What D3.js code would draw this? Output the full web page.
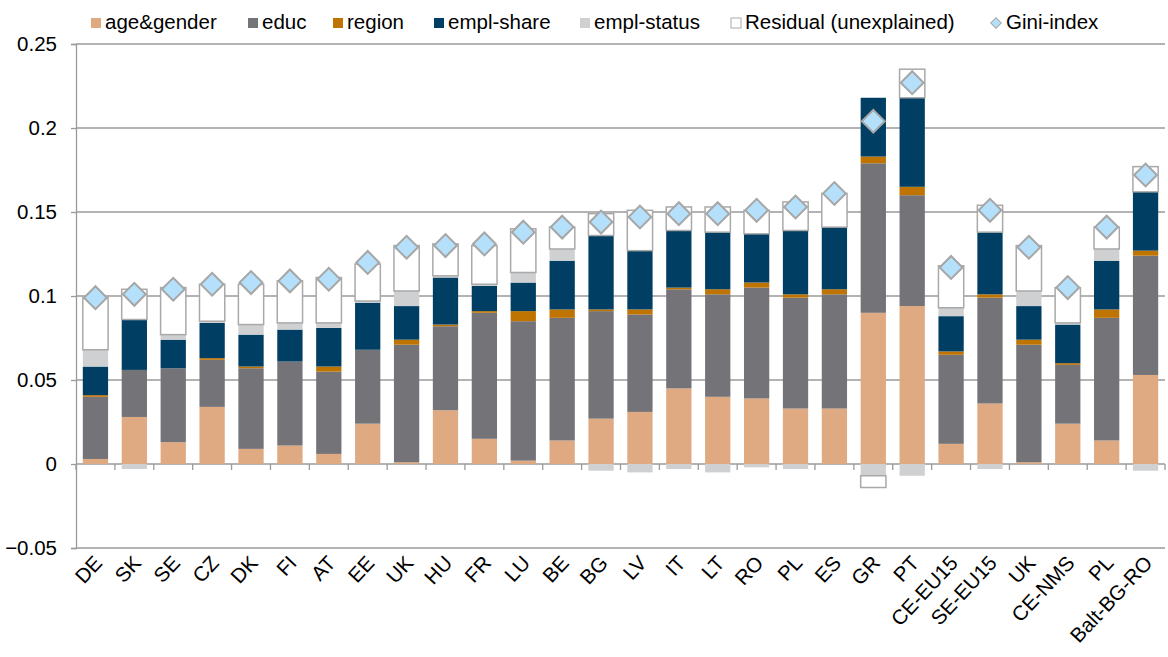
<!DOCTYPE html>
<html>
<head>
<meta charset="utf-8">
<script src="https://cdn.jsdelivr.net/npm/d3@7"></script>
<style>
  body { margin: 0; background: #fff; }
  svg { display: block; font-family: "Liberation Sans", Arial, sans-serif; }
</style>
</head>
<body>
<svg id="chart" width="1168" height="657"></svg>
<script>
// categories along the x axis
const countries = ["DE","SK","SE","CZ","DK","FI","AT","EE","UK","HU","FR","LU","BE","BG","LV","IT","LT","RO","PL","ES","GR","PT","CE-EU15","SE-EU15","UK","CE-NMS","PL","Balt-BG-RO"];

// decomposition components
const ageGender  = [0.003,0.028,0.013,0.034,0.009,0.011,0.006,0.024,0.001,0.032,0.015,0.002,0.014,0.027,0.031,0.045,0.040,0.039,0.033,0.033,0.090,0.094,0.012,0.036,0.001,0.024,0.014,0.053];
const educ       = [0.037,0.028,0.044,0.028,0.048,0.050,0.049,0.044,0.070,0.050,0.075,0.083,0.073,0.064,0.058,0.059,0.061,0.066,0.066,0.068,0.089,0.066,0.053,0.063,0.070,0.035,0.073,0.071];
const region     = [0.001,0,0,0.001,0.001,0,0.003,0,0.003,0.001,0.001,0.006,0.005,0.001,0.003,0.001,0.003,0.003,0.002,0.003,0.004,0.005,0.002,0.002,0.003,0.001,0.005,0.003];
const emplShare  = [0.017,0.030,0.017,0.021,0.019,0.019,0.023,0.028,0.020,0.028,0.015,0.017,0.029,0.044,0.035,0.034,0.034,0.029,0.038,0.037,0.035,0.053,0.021,0.037,0.020,0.023,0.029,0.035];
const emplStatus = [0.010,-0.003,0.003,0.001,0.006,0.004,0.003,0.001,0.009,0.001,0.001,0.006,0.007,-0.004,-0.005,-0.003,-0.005,-0.002,-0.003,0,-0.007,-0.007,0.005,-0.003,0.009,0.001,0.007,-0.004];
const residual   = [0.031,0.018,0.028,0.022,0.024,0.025,0.027,0.022,0.027,0.019,0.023,0.026,0.013,0.013,0.024,0.014,0.015,0.014,0.017,0.020,-0.007,0.017,0.025,0.016,0.027,0.021,0.013,0.015];
const gini       = [0.099,0.101,0.104,0.107,0.108,0.109,0.110,0.120,0.129,0.130,0.131,0.138,0.141,0.144,0.147,0.149,0.149,0.151,0.153,0.161,0.204,0.227,0.117,0.151,0.129,0.105,0.141,0.172];

const yTicks = [-0.05, 0, 0.05, 0.1, 0.15, 0.2, 0.25];

const seriesNames = ["age&gender","educ","region","empl-share","empl-status","Residual (unexplained)"];
const seriesColors = ["#dfaa82","#747378","#bf7300","#003f63","#cfd0d2","#ffffff"];
const seriesValues = [ageGender, educ, region, emplShare, emplStatus, residual];

const table = countries.map((c, i) => {
  const row = { idx: i, name: c };
  seriesNames.forEach((s, k) => row[s] = seriesValues[k][i]);
  return row;
});

const svg = d3.select("#chart");
const plotLeft = 76, plotRight = 1165, plotTop = 44, plotBottom = 548;
const fontSize = 20.5;

const x = d3.scaleBand()
  .domain(d3.range(countries.length))
  .range([plotLeft, plotRight])
  .paddingInner(0.35)
  .paddingOuter(0.175);

const y = d3.scaleLinear().domain([-0.05, 0.25]).range([plotBottom, plotTop]);

// gridlines
svg.append("g").selectAll("line")
  .data(yTicks)
  .join("line")
  .attr("x1", plotLeft).attr("x2", plotRight)
  .attr("y1", d => y(d)).attr("y2", d => y(d))
  .attr("stroke", "#9a9a9a").attr("stroke-width", 1.3);

// y axis
const yAxis = svg.append("g")
  .attr("transform", `translate(${plotLeft},0)`)
  .call(d3.axisLeft(y).tickValues(yTicks).tickSize(5).tickPadding(14)
    .tickFormat(d => d3.format("")(+d.toFixed(2))));
yAxis.select(".domain").attr("stroke", "#9a9a9a").attr("stroke-width", 1.3);
yAxis.selectAll(".tick line").attr("stroke", "#9a9a9a").attr("stroke-width", 1.3);
yAxis.selectAll("text").attr("font-size", fontSize).attr("fill", "#000")
  .attr("font-family", "Liberation Sans, Arial, sans-serif");

// x ticks at the zero line
const step = x.step();
svg.append("g").selectAll("line")
  .data(d3.range(countries.length + 1))
  .join("line")
  .attr("x1", i => plotLeft + i * step).attr("x2", i => plotLeft + i * step)
  .attr("y1", y(0)).attr("y2", y(0) + 6)
  .attr("stroke", "#9a9a9a").attr("stroke-width", 1.3);

// stacked bars
const stack = d3.stack().keys(seriesNames).offset(d3.stackOffsetDiverging);
const layers = stack(table);

svg.append("g").selectAll("g")
  .data(layers)
  .join("g")
  .attr("fill", (d, k) => seriesColors[k])
  .each(function(layer, k) {
    d3.select(this).selectAll("rect")
      .data(layer.filter(d => Math.abs(d[1] - d[0]) > 1e-9))
      .join("rect")
      .attr("x", d => x(d.data.idx))
      .attr("width", x.bandwidth())
      .attr("y", d => y(Math.max(d[0], d[1])))
      .attr("height", d => Math.abs(y(d[0]) - y(d[1])))
      .attr("stroke", k === 5 ? "#a9a9a9" : "none")
      .attr("stroke-width", k === 5 ? 1.5 : 0);
  });

// Gini markers
const diamond = d3.symbol().type(d3.symbolSquare).size(260);
svg.append("g").selectAll("path")
  .data(gini)
  .join("path")
  .attr("d", diamond)
  .attr("transform", (d, i) => `translate(${x(i) + x.bandwidth() / 2},${y(d)}) rotate(45)`)
  .attr("fill", "#b4e0fb")
  .attr("stroke", "#a6a6a6")
  .attr("stroke-width", 2);

// x labels
svg.append("g").selectAll("text")
  .data(countries)
  .join("text")
  .attr("transform", (d, i) => `translate(${x(i) + x.bandwidth() / 2 + 8},${plotBottom + 16}) rotate(-47)`)
  .attr("text-anchor", "end")
  .attr("font-size", fontSize)
  .attr("fill", "#000")
  .text(d => d);

// legend
const legendX = [91, 248, 333, 434, 580, 731];
const legend = svg.append("g");
seriesNames.forEach((s, k) => {
  legend.append("rect")
    .attr("x", legendX[k]).attr("y", 18)
    .attr("width", 10).attr("height", 10)
    .attr("fill", seriesColors[k])
    .attr("stroke", k === 5 ? "#a9a9a9" : "none");
  legend.append("text")
    .attr("x", legendX[k] + 14).attr("y", 29)
    .attr("font-size", fontSize).attr("fill", "#000")
    .text(s);
});
legend.append("path")
  .attr("d", d3.symbol().type(d3.symbolSquare).size(55))
  .attr("transform", `translate(996,23) rotate(45)`)
  .attr("fill", "#b4e0fb").attr("stroke", "#a6a6a6").attr("stroke-width", 1);
legend.append("text")
  .attr("x", 1006).attr("y", 29)
  .attr("font-size", fontSize).attr("fill", "#000")
  .text("Gini-index");
</script>
</body>
</html>
